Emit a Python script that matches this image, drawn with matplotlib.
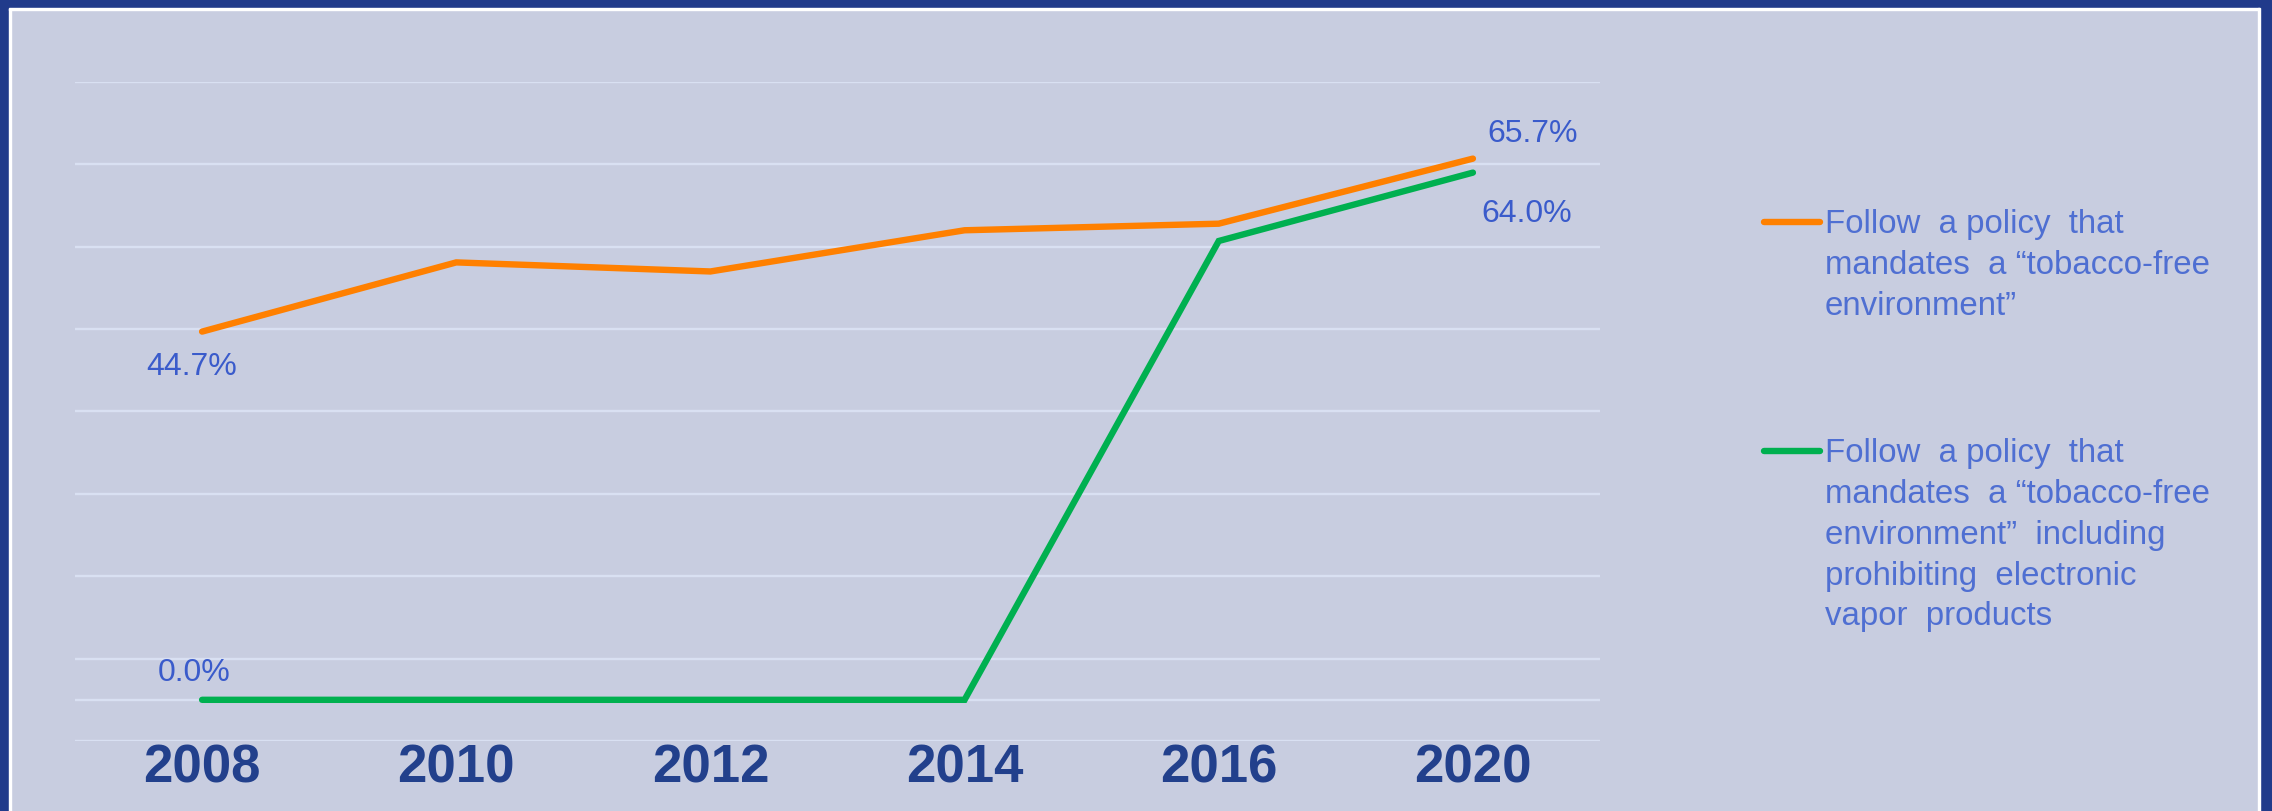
import numpy as np
import matplotlib
matplotlib.use("Agg")
import matplotlib.pyplot as plt
from matplotlib.lines import Line2D
from matplotlib.patches import Rectangle

plt.rcParams['font.family'] = ['Liberation Sans', 'DejaVu Sans']

# data
years = ['2008', '2010', '2012', '2014', '2016', '2020']
tobacco_free = [44.7, 53.1, 52.0, 57.0, 57.8, 65.7]
incl_vapor = [0.0, 0.0, 0.0, 0.0, 55.7, 64.0]
labels = ['Follow  a policy  that\nmandates  a \u201ctobacco-free\nenvironment\u201d',
          'Follow  a policy  that\nmandates  a \u201ctobacco-free\nenvironment\u201d  including\nprohibiting  electronic\nvapor  products']

bg = '#C8CDE0'
grid_c = '#D9E0F2'
border = '#213B8B'
orange = '#FF8000'
green = '#00B050'
lab_c = '#3A5BCB'
leg_c = '#4F6FD2'
tick_c = '#22408C'

W, H = 2272, 811
fig = plt.figure(figsize=(W / 100, H / 100), dpi=100, facecolor=bg)

# frame round the slide
fig.patches.append(Rectangle((0, 0), 9 / W, 1, transform=fig.transFigure, color=border, zorder=0))
fig.patches.append(Rectangle((9 / W, 0), 2 / W, 1 - 8 / H, transform=fig.transFigure, color='white', zorder=0))
fig.patches.append(Rectangle((0, 1 - 8 / H), 1, 8 / H, transform=fig.transFigure, color=border, zorder=0))
fig.patches.append(Rectangle((9 / W, 1 - 10 / H), 1 - 21 / W, 2 / H, transform=fig.transFigure, color='white', zorder=0))
fig.patches.append(Rectangle((1 - 12 / W, 0), 12 / W, 1, transform=fig.transFigure, color=border, zorder=0))
fig.patches.append(Rectangle((1 - 14 / W, 0), 2 / W, 1 - 8 / H, transform=fig.transFigure, color='white', zorder=0))

ax = fig.add_axes([75 / W, (H - 741) / H, (1600 - 75) / W, (741 - 82) / H])
ax.set_facecolor(bg)
x = np.arange(len(years))

for y in np.arange(-5, 76, 10):
    ax.axhline(y, color=grid_c, lw=1.7, zorder=1)
ax.axhline(0, color=grid_c, lw=1.7, zorder=1)

ax.plot(x, tobacco_free, color=orange, lw=4.6, solid_capstyle='round', solid_joinstyle='miter', zorder=3)
ax.plot(x, incl_vapor, color=green, lw=4.6, solid_capstyle='round', solid_joinstyle='miter', zorder=3)

ax.set_xlim(-0.5, len(years) - 0.5)
ax.set_ylim(-5, 75)
ax.set_xticks(x)
ax.set_xticklabels(years, fontsize=38, fontweight='bold', color=tick_c)
ax.tick_params(axis='x', length=0, pad=2)
ax.set_yticks([])
for s in ax.spines.values():
    s.set_visible(False)

fs = 23
ax.annotate('%.1f%%' % tobacco_free[0], (x[0], tobacco_free[0]), xytext=(-10, -35),
            textcoords='offset pixels', ha='center', va='center', fontsize=fs, color=lab_c)
ax.annotate('%.1f%%' % incl_vapor[0], (x[0], incl_vapor[0]), xytext=(-8, 27),
            textcoords='offset pixels', ha='center', va='center', fontsize=fs, color=lab_c)
ax.annotate('%.1f%%' % tobacco_free[-1], (x[-1], tobacco_free[-1]), xytext=(60, 25),
            textcoords='offset pixels', ha='center', va='center', fontsize=fs, color=lab_c)
ax.annotate('%.1f%%' % incl_vapor[-1], (x[-1], incl_vapor[-1]), xytext=(54, -41),
            textcoords='offset pixels', ha='center', va='center', fontsize=fs, color=lab_c)

# legend on the right
for col, lab, yl, yt in [(orange, labels[0], 222, 209), (green, labels[1], 451, 438)]:
    fig.add_artist(Line2D([1764 / W, 1820 / W], [1 - yl / H, 1 - yl / H], transform=fig.transFigure,
                          color=col, lw=4.6, solid_capstyle='round'))
    fig.text(1825 / W, 1 - yt / H, lab, ha='left', va='top', fontsize=23.8,
             color=leg_c, linespacing=1.41)

fig.savefig('out.png', dpi=100, facecolor=bg)
